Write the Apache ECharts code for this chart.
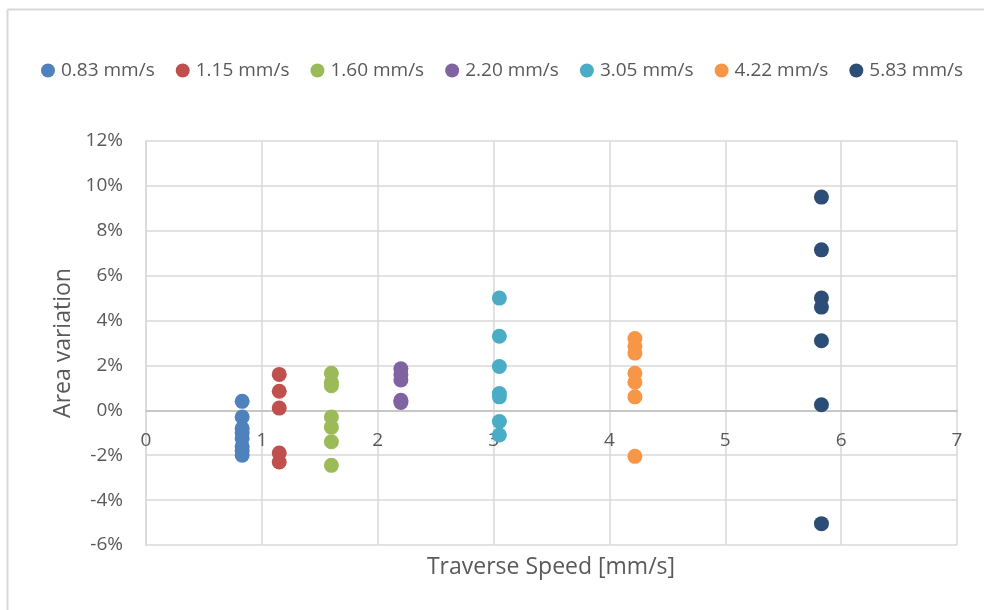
<!DOCTYPE html>
<html>
<head>
<meta charset="utf-8">
<script src="https://cdn.jsdelivr.net/npm/echarts@6/dist/echarts.min.js"></script>
<style>
  html, body { margin: 0; padding: 0; background: #ffffff; }
  #chart { width: 984px; height: 610px; }
</style>
</head>
<body>
<div id="chart"></div>
<script>
// Traverse speeds (mm/s) and their legend names
const speeds = [0.83, 1.15, 1.60, 2.20, 3.05, 4.22, 5.83];
const seriesNames = ['0.83 mm/s', '1.15 mm/s', '1.60 mm/s', '2.20 mm/s', '3.05 mm/s', '4.22 mm/s', '5.83 mm/s'];
const seriesColors = ['#4F81BD', '#C0504D', '#9BBB59', '#8064A2', '#4BACC6', '#F79646', '#2C4D75'];

// Area variation measured at each speed, in percent
const area083 = [0.40, -0.30, -0.80, -1.00, -1.25, -1.60, -1.80, -2.00];
const area115 = [1.60, 0.85, 0.10, -1.90, -2.30];
const area160 = [1.65, 1.25, 1.10, -0.30, -0.75, -1.40, -2.45];
const area220 = [1.85, 1.60, 1.35, 0.45, 0.35];
const area305 = [5.00, 3.30, 1.95, 0.75, 0.60, -0.50, -1.10];
const area422 = [3.20, 2.85, 2.55, 1.65, 1.25, 0.60, -2.05];
const area583 = [9.50, 7.15, 5.00, 4.60, 3.10, 0.25, -5.05];

const areaSets = [area083, area115, area160, area220, area305, area422, area583];

// Axis ranges and titles
const xMin = 0, xMax = 7, xStep = 1;
const yMin = -6, yMax = 12, yStep = 2;
const xTitle = 'Traverse Speed [mm/s]';
const yTitle = 'Area variation';

const FONT = '"Open Sans", "Noto Sans", sans-serif';
const TEXT = '#595959';
const GRID = '#d9d9d9';

// Plot area in pixels
const gridLeft = 146, gridRight = 27, gridTop = 141, gridBottom = 65;
const plotHeight = 610 - gridTop - gridBottom;
// Distance from the bottom edge of the plot up to the 0% line
const zeroLift = plotHeight * (0 - yMin) / (yMax - yMin);

const chart = echarts.init(document.getElementById('chart'), null, { renderer: 'canvas' });

const series = areaSets.map((vals, i) => ({
  name: seriesNames[i],
  type: 'scatter',
  symbol: 'circle',
  symbolSize: 15,
  itemStyle: { color: seriesColors[i], opacity: 1 },
  data: vals.map(v => [speeds[i], v])
}));

chart.setOption({
  backgroundColor: '#ffffff',
  animation: false,
  color: seriesColors,
  graphic: [
    { type: 'line', shape: { x1: 7.5, y1: 9.5, x2: 984, y2: 9.5 }, style: { stroke: GRID, lineWidth: 2 } },
    { type: 'line', shape: { x1: 7.5, y1: 9.5, x2: 7.5, y2: 610 }, style: { stroke: GRID, lineWidth: 2 } },
    { type: 'text', x: 551, y: 567,
      style: { text: xTitle, fontFamily: FONT, fontSize: 23, fill: TEXT, align: 'center', verticalAlign: 'middle' } }
  ],
  legend: {
    top: 56,
    left: 36,
    itemWidth: 14,
    itemHeight: 14,
    itemGap: 21,
    icon: 'circle',
    textStyle: { fontFamily: FONT, fontSize: 19, color: TEXT, padding: [0, 0, 0, 1] },
    data: seriesNames
  },
  grid: { left: gridLeft, right: gridRight, top: gridTop, bottom: gridBottom },
  xAxis: {
    type: 'value',
    min: xMin, max: xMax, interval: xStep,
    offset: -zeroLift,
    axisLine: { onZero: false, lineStyle: { color: '#bfbfbf', width: 1.5 } },
    axisTick: { show: false },
    axisLabel: { fontFamily: FONT, fontSize: 19, color: TEXT, margin: 21 },
    splitLine: { show: true, lineStyle: { color: GRID, width: 1.5 } }
  },
  yAxis: {
    type: 'value',
    min: yMin, max: yMax, interval: yStep,
    name: yTitle,
    nameLocation: 'middle',
    nameGap: 70,
    nameTextStyle: { fontFamily: FONT, fontSize: 23, color: TEXT },
    axisLine: { show: true, lineStyle: { color: GRID, width: 1.5 } },
    axisTick: { show: false },
    axisLabel: { fontFamily: FONT, fontSize: 19, color: TEXT, margin: 23, formatter: v => v + '%' },
    splitLine: { show: true, lineStyle: { color: GRID, width: 1.5 } }
  },
  series: series
});
</script>
</body>
</html>
